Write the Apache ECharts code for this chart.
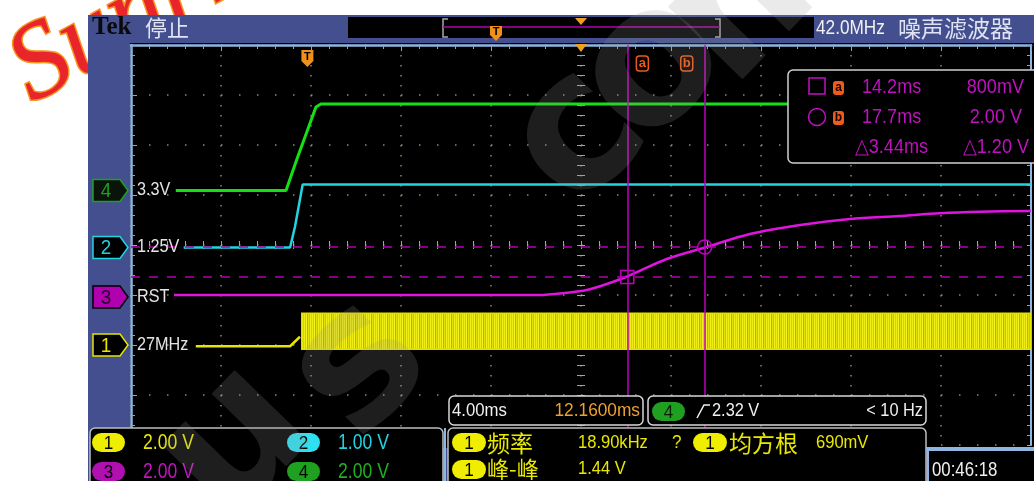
<!DOCTYPE html>
<html>
<head>
<meta charset="utf-8">
<script src="https://cdn.jsdelivr.net/npm/echarts@6/dist/echarts.min.js"></script>
<style>
  html, body { margin: 0; padding: 0; background: #ffffff; }
  #scope { width: 1034px; height: 481px; }
</style>
</head>
<body>
<div id="scope"></div>
<script>
// ---- Channel setup (V/div and ground position in divisions from center) ----
const channelNames = ['1', '2', '3', '4'];
const channelVoltsPerDiv = [2.0, 1.0, 2.0, 2.0];
const channelPositionDiv = [-2.0, -0.05, -1.04, 1.09];
const channelTags = ['27MHz', '1.25V', 'RST', '3.3V'];

// ---- Horizontal setup ----
const msPerDiv = 4.0;
const horizontalPositionMs = 12.16;

// ---- Waveforms: time in ms, level in volts ----
// CH1: 27 MHz clock, idle level then burst envelope
const ch1Time = [-4.96, -0.77, -0.33];
const ch1Volts = [-0.05, -0.05, 0.33];
const ch1BurstTime = [-0.25, 32.16];
const ch1BurstHigh = [1.27, 1.27];
const ch1BurstLow = [-0.17, -0.17];

// CH2: 1.25 V rail
const ch2Time = [-5.5, -0.77, -0.55, -0.21, 32.16];
const ch2Volts = [0, 0, 0.42, 1.26, 1.26];

// CH3: RST
const ch3Time = [-5.93, 10.3, 11.52, 12.41, 13.30, 14.19, 15.97, 17.70, 19.67, 21.9, 24.12, 26.3, 28.1, 29.9, 32.16];
const ch3Volts = [0.08, 0.08, 0.17, 0.28, 0.52, 0.81, 1.52, 1.99, 2.52, 2.88, 3.12, 3.24, 3.35, 3.41, 3.44];

// CH4: 3.3 V rail
const ch4Time = [-5.85, -0.95, -0.48, 0.25, 0.38, 0.6, 32.16];
const ch4Volts = [0, 0, 1.22, 3.02, 3.34, 3.46, 3.46];

// ---- Cursors (on CH3) ----
const cursorTimeMs = [14.22, 17.66];
const cursorVolts = [0.80, 2.00];

// ---- Trigger and measurements ----
const triggerChannel = '4';
const triggerLevelV = 2.32;
const triggerFreqText = '< 10 Hz';
const measFreqKHz = 18.90;
const measRmsV = 0.690;
const noiseFilterMHz = 42.0;
const clockText = '00:46:18';

// ---- Styling ----
const SANS = '"Liberation Sans", Arial, sans-serif';
const SERIF = '"Liberation Serif", "DejaVu Serif", serif';
const CJK = '"Noto Sans CJK SC", sans-serif';
const FRAME = '#434f8e';
const BORDER = '#8fb6e0';
const DOT = '#8c8a68';
const TICK = '#aaa680';
const traceColor = ['#e6e400', '#22d3e0', '#e014e0', '#14e014'];
const textColor = ['#e8e800', '#22d3e0', '#c414c4', '#20b020'];
const pillColor = ['#f0ee00', '#30e0f0', '#b010b0', '#20a020'];

function fmtVolts(v) {
  return Math.abs(v) < 1 ? Math.round(v * 1000) + 'mV' : v.toFixed(2) + ' V';
}

// Striped fill for the densely sampled clock burst
function burstPattern() {
  const shades = ['#eeec10', '#d2cc00', '#f4f224', '#bdb600', '#e6e200', '#cac400', '#f0ee18', '#d9d400'];
  const c = document.createElement('canvas');
  c.width = shades.length; c.height = 4;
  const ctx = c.getContext('2d');
  shades.forEach((s, i) => { ctx.fillStyle = s; ctx.fillRect(i, 0, 1, 4); });
  return { image: c, repeat: 'repeat' };
}

const xMin = horizontalPositionMs - 5 * msPerDiv;
const xMax = horizontalPositionMs + 5 * msPerDiv;

function channelAxis(i) {
  return {
    type: 'value', show: false,
    min: (-4 - channelPositionDiv[i]) * channelVoltsPerDiv[i],
    max: (4 - channelPositionDiv[i]) * channelVoltsPerDiv[i]
  };
}

function graticuleAxis(extent, position, opts) {
  return Object.assign({
    type: 'value', min: -extent, max: extent, interval: 1, position,
    axisLine: { show: false, onZero: false },
    axisTick: { show: true, inside: true, length: 4, lineStyle: { color: TICK, width: 1 } },
    minorTick: { show: true, splitNumber: 5, length: 4, lineStyle: { color: TICK, width: 1 } },
    axisLabel: { show: false },
    splitLine: { show: false }
  }, opts || {});
}

function trace(t, v, ch, width) {
  return {
    type: 'line', xAxisIndex: 1, yAxisIndex: 1 + ch,
    data: t.map((x, i) => [x, v[i]]),
    symbol: 'none', silent: true, animation: false,
    lineStyle: { color: traceColor[ch], width: width || 2.5 },
    itemStyle: { color: traceColor[ch] },
    z: 3
  };
}

const ch3Series = trace(ch3Time, ch3Volts, 2, 2.5);
ch3Series.smooth = 0.3;
ch3Series.z = 4;
ch3Series.markLine = {
  symbol: 'none', silent: true, animation: false, label: { show: false },
  data: [
    { xAxis: cursorTimeMs[0], lineStyle: { type: 'solid', color: '#c000c0', width: 1.5 } },
    { xAxis: cursorTimeMs[1], lineStyle: { type: 'solid', color: '#c000c0', width: 1.5 } },
    { yAxis: cursorVolts[0], lineStyle: { type: [9, 9], color: '#b000b0', width: 1.5 } },
    { yAxis: cursorVolts[1], lineStyle: { type: [9, 9], color: '#b000b0', width: 1.5 } }
  ]
};
ch3Series.markPoint = {
  silent: true, animation: false, label: { show: false },
  itemStyle: { color: 'rgba(0,0,0,0)', borderColor: '#c000c0', borderWidth: 1.5 },
  data: [
    { coord: [cursorTimeMs[0], cursorVolts[0]], symbol: 'rect', symbolSize: 13 },
    { coord: [cursorTimeMs[1], cursorVolts[1]], symbol: 'circle', symbolSize: 14 }
  ]
};

const burstFill = burstPattern();
const burstSeries = {
  type: 'custom', xAxisIndex: 1, yAxisIndex: 1, silent: true, animation: false, clip: true, z: 3,
  data: ch1BurstTime.slice(0, -1).map((t, i) => [t, ch1BurstTime[i + 1], ch1BurstLow[i], ch1BurstHigh[i]]),
  encode: { x: [0, 1], y: [2, 3] },
  renderItem: function (params, api) {
    const a = api.coord([api.value(0), api.value(3)]);
    const b = api.coord([api.value(1), api.value(2)]);
    return {
      type: 'rect',
      shape: { x: a[0], y: a[1], width: b[0] - a[0], height: b[1] - a[1] },
      style: { fill: burstFill, stroke: '#e4e000', lineWidth: 1.5 }
    };
  }
};

const chart = echarts.init(document.getElementById('scope'), null, { renderer: 'canvas' });

chart.setOption({
  animation: false,
  backgroundColor: '#ffffff',
  grid: { left: 131, top: 45, width: 900, height: 400, show: false },
  xAxis: [
    graticuleAxis(5, 'top', {
      axisLine: { show: true, onZero: false, lineStyle: { color: BORDER, width: 2.5 } },
      axisTick: { show: true, inside: true, length: 6, lineStyle: { color: TICK } },
      splitLine: { show: true, lineStyle: { color: DOT, width: 1.5, type: [1.5, 8.5] } }
    }),
    { type: 'value', min: xMin, max: xMax, show: false },
    graticuleAxis(5, 'top', { offset: -200 }),
    graticuleAxis(5, 'bottom', { offset: -200 })
  ],
  yAxis: [
    graticuleAxis(4, 'left', {
      axisLine: { show: true, onZero: false, lineStyle: { color: BORDER, width: 2.5 } },
      axisTick: { show: true, inside: true, length: 6, lineStyle: { color: TICK } },
      splitLine: { show: true, lineStyle: { color: DOT, width: 1.5, type: [1.5, 16.5] } }
    }),
    channelAxis(0), channelAxis(1), channelAxis(2), channelAxis(3),
    graticuleAxis(4, 'left', { offset: -450 }),
    graticuleAxis(4, 'right', { offset: -450 }),
    graticuleAxis(4, 'right', {
      axisLine: { show: true, onZero: false, lineStyle: { color: BORDER, width: 2 } }
    })
  ],
  series: [
    trace(ch4Time, ch4Volts, 3, 3),
    trace(ch2Time, ch2Volts, 1, 2.5),
    trace(ch1Time, ch1Volts, 0, 2.5),
    burstSeries,
    ch3Series
  ]
});

// ---- Screen furniture: frame, readouts, markers ----
function txt(x, y, text, fill, size, o) {
  o = o || {};
  return {
    type: 'text', x, y, scaleX: o.sx || 1, rotation: o.rot || 0, z: o.z != null ? o.z : 60,
    style: {
      text, fill, x: 0, y: 0,
      font: (o.weight || 'normal') + ' ' + size + 'px ' + (o.family || SANS),
      textAlign: o.align || 'left', textVerticalAlign: o.valign || 'middle',
      stroke: o.stroke, lineWidth: o.lineWidth || 0
    }
  };
}
function box(x, y, w, h, fill, stroke, r, z, lw) {
  return {
    type: 'rect', z: z != null ? z : 50,
    shape: { x, y, width: w, height: h, r: r || 0 },
    style: { fill, stroke: stroke || null, lineWidth: lw || (stroke ? 1.5 : 0) }
  };
}
function poly(points, fill, stroke, z, lw) {
  return { type: 'polygon', z: z != null ? z : 55, shape: { points }, style: { fill, stroke: stroke || null, lineWidth: lw || 1.5 } };
}
function pline(points, stroke, z, lw) {
  return { type: 'polyline', z: z != null ? z : 55, shape: { points }, style: { fill: null, stroke, lineWidth: lw || 1.5 } };
}
function pill(x, y, w, h, fill, label, color) {
  return [
    box(x, y, w, h, fill, null, h / 2, 56),
    txt(x + w / 2, y + h / 2 + 1, label, color, h, { align: 'center', z: 57, weight: 'normal', sx: 0.9 })
  ];
}

const g = [];

// Background watermark behind the frame
g.push(txt(44, 126, 'Sunrise', '#e8252b', 108, {
  family: SERIF, weight: 'italic', rot: 0.5, valign: 'bottom', z: -40, stroke: '#f7941d', lineWidth: 3
}));

// Frame and plot background
g.push(box(88, 15, 946, 466, FRAME, null, 0, -30));
g.push(box(130, 43, 904, 405, '#000000', null, 0, -29));

// Top status bar
g.push(txt(92, 28, 'Tek', '#0a0a0a', 25, { family: SERIF, weight: 'bold' }));
g.push(txt(145, 28, '停止', '#dfe3f3', 22, { family: CJK }));
g.push(box(348, 17, 466, 21, '#000000', null, 0, 50));
g.push(pline([[448, 19], [443, 19], [443, 37], [448, 37]], '#a8a8b0'));
g.push(pline([[715, 19], [720, 19], [720, 37], [715, 37]], '#a8a8b0'));
g.push(pline([[443, 27], [720, 27]], '#b000b0'));
g.push(poly([[575, 18], [587, 18], [581, 25]], '#f0a020', null));
g.push(poly([[490, 26], [502, 26], [502, 35], [496, 41], [490, 35]], '#f09018', null));
g.push(txt(496, 32, 'T', '#000', 11, { align: 'center', weight: 'bold', z: 56 }));
g.push(txt(816, 28, noiseFilterMHz.toFixed(1) + 'MHz', '#f2f2f2', 20, { sx: 0.86 }));
g.push(txt(898, 28, '噪声滤波器', '#dfe3f3', 23, { family: CJK }));

// Markers along the plot top: horizontal position and trigger point
const centerX = chart.convertToPixel({ xAxisIndex: 1, yAxisIndex: 1 }, [horizontalPositionMs, 0])[0];
const trigX = chart.convertToPixel({ xAxisIndex: 1, yAxisIndex: 1 }, [0, 0])[0];
g.push(poly([[centerX - 6, 44], [centerX + 6, 44], [centerX, 52]], '#f0a020', null));
g.push(poly([[trigX - 6, 50], [trigX + 6, 50], [trigX + 6, 61], [trigX, 67], [trigX - 6, 61]], '#f09018', null));
g.push(txt(trigX, 57, 'T', '#000', 11, { align: 'center', weight: 'bold', z: 56 }));

// Cursor tags
const curX = cursorTimeMs.map(t => chart.convertToPixel({ xAxisIndex: 1, yAxisIndex: 1 }, [t, 0])[0]);
[['a', curX[0] + 9], ['b', curX[1] - 24]].forEach(([s, x]) => {
  g.push(box(x, 56, 12, 15, null, '#f05818', 3, 55, 1.5));
  g.push(txt(x + 6, 63, s, '#f05818', 13, { align: 'center', weight: 'bold', z: 56 }));
});

// Channel ground markers and tags
const markerStyle = [
  { fill: '#000', stroke: traceColor[0], text: traceColor[0] },
  { fill: '#000', stroke: traceColor[1], text: traceColor[1] },
  { fill: '#b000b0', stroke: '#000', text: '#2a002a' },
  { fill: '#0a140a', stroke: '#20a020', text: '#20a020' }
];
channelNames.forEach((name, i) => {
  const y = chart.convertToPixel({ xAxisIndex: 1, yAxisIndex: 1 + i }, [0, 0])[1];
  const m = markerStyle[i];
  g.push(poly([[93, y - 11], [120, y - 11], [128, y], [120, y + 11], [93, y + 11]], m.fill, m.stroke, 55, 1.5));
  g.push(txt(106, y + 1, name, m.text, 21, { align: 'center', z: 56, sx: 0.9 }));
  g.push(txt(137, y, channelTags[i], '#e4e4e4', 18, { sx: 0.9 }));
});

// Cursor readout panel
const MAG = '#c010c0';
g.push(box(788, 70, 260, 93, '#000000', '#d0d0d0', 5, 50));
g.push(box(809, 78, 16, 16, null, MAG, 0, 55));
g.push({ type: 'circle', z: 55, shape: { cx: 817, cy: 117, r: 8.5 }, style: { fill: null, stroke: MAG, lineWidth: 1.5 } });
[['a', 81], ['b', 111]].forEach(([s, y]) => {
  g.push(box(833, y, 11, 14, '#f05a1a', null, 3, 55));
  g.push(txt(838.5, y + 7, s, '#1a0500', 12, { align: 'center', weight: 'bold', z: 56 }));
});
g.push(txt(862, 87.5, cursorTimeMs[0].toFixed(1) + 'ms', MAG, 21, { sx: 0.86 }));
g.push(txt(862, 117.5, cursorTimeMs[1].toFixed(1) + 'ms', MAG, 21, { sx: 0.86 }));
g.push(txt(1024, 87.5, fmtVolts(cursorVolts[0]), MAG, 21, { sx: 0.86, align: 'right' }));
g.push(txt(1022, 117.5, fmtVolts(cursorVolts[1]), MAG, 21, { sx: 0.86, align: 'right' }));
g.push(txt(928, 147.5, '\u25B3' + (cursorTimeMs[1] - cursorTimeMs[0]).toFixed(2) + 'ms', MAG, 21, { sx: 0.86, align: 'right' }));
g.push(txt(1029, 147.5, '\u25B3' + fmtVolts(cursorVolts[1] - cursorVolts[0]), MAG, 21, { sx: 0.86, align: 'right' }));

// Vertical scale readouts
g.push(box(90, 428, 353, 60, '#000000', '#bdbdbd', 5, 50));
g.push(pline([[445, 428], [445, 481]], BORDER, 50, 2));
[[0, 92, 433, 143], [1, 287, 433, 338], [2, 92, 462, 143], [3, 287, 462, 338]].forEach(([ch, px, py, tx]) => {
  g.push(...pill(px, py, 33, 19, pillColor[ch], channelNames[ch], '#000'));
  g.push(txt(tx, py + 10, fmtVolts(channelVoltsPerDiv[ch]), textColor[ch], 22, { sx: 0.8 }));
});

// Horizontal readout
g.push(box(449, 396, 194, 29, '#000000', '#d8d8d8', 5, 50));
g.push(txt(452, 411, msPerDiv.toFixed(2) + 'ms', '#f0f0f0', 18, { sx: 0.93 }));
g.push(txt(640, 411, horizontalPositionMs.toFixed(4) + 'ms', '#f0a030', 18, { sx: 0.96, align: 'right' }));

// Trigger readout
g.push(box(648, 396, 278, 29, '#000000', '#d8d8d8', 5, 50));
g.push(...pill(652, 402, 33, 19, '#20a020', triggerChannel, '#062006'));
g.push(pline([[697, 418], [704, 405], [710, 405]], '#f0f0f0', 56, 1.5));
g.push(txt(712, 411, fmtVolts(triggerLevelV), '#f0f0f0', 19, { sx: 0.86 }));
g.push(txt(923, 411, triggerFreqText, '#f0f0f0', 19, { sx: 0.86, align: 'right' }));

// Measurement readouts
const YEL = '#e8e800';
const pkpk = Math.max(...ch1BurstHigh) - Math.min(...ch1BurstLow);
g.push(box(448, 428, 478, 60, '#000000', '#bdbdbd', 5, 50));
g.push(...pill(452, 433, 34, 19, pillColor[0], '1', '#000'));
g.push(txt(487, 443, '频率', YEL, 23, { family: CJK }));
g.push(txt(578, 443, measFreqKHz.toFixed(2) + 'kHz', YEL, 19, { sx: 0.87 }));
g.push(txt(672, 443, '?', YEL, 19, { sx: 0.9 }));
g.push(...pill(693, 433, 34, 19, pillColor[0], '1', '#000'));
g.push(txt(729, 443, '均方根', YEL, 23, { family: CJK }));
g.push(txt(816, 443, fmtVolts(measRmsV), YEL, 19, { sx: 0.87 }));
g.push(...pill(452, 460, 34, 19, pillColor[0], '1', '#000'));
g.push(txt(487, 469, '峰-峰', YEL, 22, { family: CJK }));
g.push(txt(578, 469, fmtVolts(pkpk), YEL, 19, { sx: 0.87 }));

// Clock
g.push(box(926, 447, 108, 4, BORDER, null, 0, 50));
g.push(box(929, 451, 105, 30, '#000000', null, 0, 50));
g.push(pline([[928, 447], [928, 481]], BORDER, 51, 2));
g.push(txt(932, 470, clockText, '#f0f0f0', 20, { sx: 0.84 }));

// Foreground watermark
const WM = { family: '"DejaVu Sans", sans-serif', weight: 'bold', rot: 0.8, align: 'center', z: 90 };
[['u', 238, 445], ['s', 362, 370], ['c', 580, 140], ['o', 655, 70], ['m', 765, -15]].forEach(([ch, x, y]) => {
  g.push(txt(x, y, ch, 'rgba(150,150,150,0.2)', 190, Object.assign({}, WM)));
});

chart.setOption({ graphic: { elements: g } });
</script>
</body>
</html>
